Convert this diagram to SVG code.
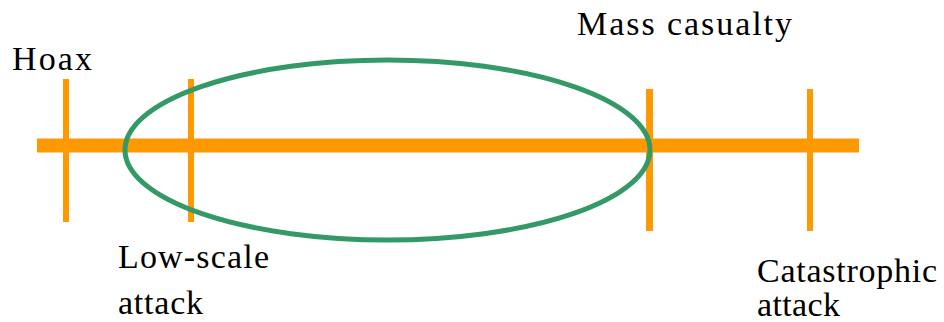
<svg xmlns="http://www.w3.org/2000/svg" width="944" height="322" viewBox="0 0 944 322">
<style>
.bar{stroke:#FF9900;fill:none}
text{font-family:Liberation Serif,Tinos,Times New Roman,Times,DejaVu Serif,Noto Serif,serif;font-size:34px;fill:#000}
</style>
<rect width="944" height="322" fill="#fff"/>
<g id="connectors">
<line class="bar" x1="37" y1="145.5" x2="859" y2="145.5" stroke-width="14"/>
</g>
<g id="tick-hoax"><line class="bar" x1="66" y1="79" x2="66" y2="222" stroke-width="6"/></g>
<g id="tick-low"><line class="bar" x1="191" y1="79" x2="191" y2="222" stroke-width="6"/></g>
<g id="tick-mass"><line class="bar" x1="649.5" y1="89" x2="649.5" y2="231" stroke-width="7"/></g>
<g id="tick-cat"><line class="bar" x1="810" y1="89" x2="810" y2="231" stroke-width="6"/></g>
<g id="ellipse"><ellipse cx="387.5" cy="150" rx="262.5" ry="90" fill="none" stroke="#339966" stroke-width="5"/></g>
<g id="label-hoax"><text x="12" y="70" textLength="80" lengthAdjust="spacing">Hoax</text></g>
<g id="label-mass"><text x="577" y="35" textLength="215" lengthAdjust="spacing">Mass casualty</text></g>
<g id="label-low">
<text x="118" y="268" textLength="151" lengthAdjust="spacing">Low-scale</text>
<text x="118" y="314" textLength="85" lengthAdjust="spacing">attack</text>
</g>
<g id="label-cat">
<text x="757" y="282" textLength="180" lengthAdjust="spacing">Catastrophic</text>
<text x="757" y="316" textLength="83" lengthAdjust="spacing">attack</text>
</g>
</svg>
